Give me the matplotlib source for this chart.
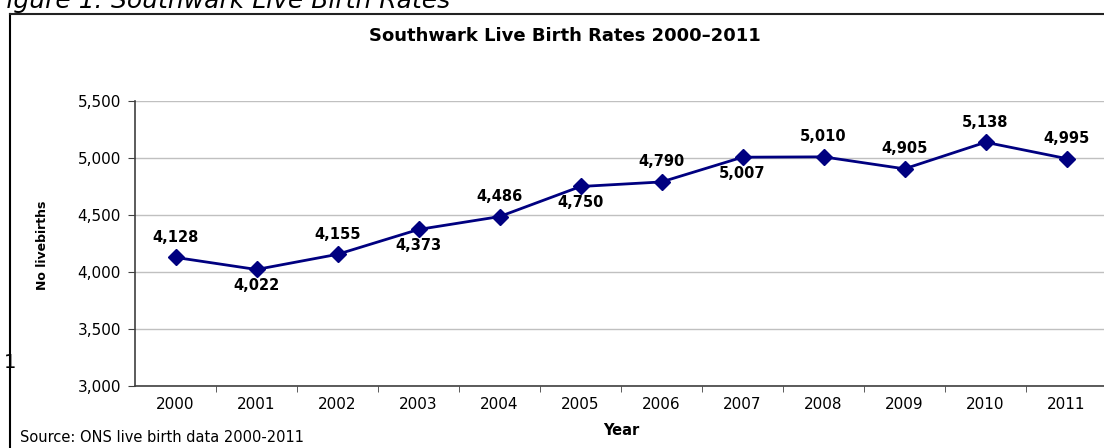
import matplotlib.pyplot as plt
from matplotlib.lines import Line2D

plt.rcParams['font.family'] = ['DejaVu Sans']

# --- Data ---
years = ['2000', '2001', '2002', '2003', '2004', '2005',
         '2006', '2007', '2008', '2009', '2010', '2011']
births = [4128, 4022, 4155, 4373, 4486, 4750, 4790, 5007, 5010, 4905, 5138, 4995]
label_above = [True, False, True, False, True, False,
               True, False, True, True, True, True]

fig = plt.figure(figsize=(11.04, 4.48), dpi=100)
ax = fig.add_axes([135 / 1104, 62 / 448, 972 / 1104, 285 / 448])

x = list(range(len(years)))
ax.plot(x, births, color='#000080', linewidth=2, marker='D', markersize=8,
        markerfacecolor='#000080', markeredgecolor='#000080', zorder=3)

# --- Data labels ---
for xi, v, up in zip(x, births, label_above):
    ax.annotate(f'{v:,}', (xi, v), xytext=(0, 9 if up else -6),
                textcoords='offset points', ha='center',
                va='bottom' if up else 'top', fontsize=10.5, fontweight='bold')

# --- Axes ---
ax.set_xlim(-0.5, len(years) - 0.5)
ax.set_ylim(3000, 5500)
ax.set_yticks(range(3000, 5501, 500))
ax.set_yticklabels([f'{t:,}' for t in range(3000, 5501, 500)], fontsize=11)
ax.set_xticks(x)
ax.set_xticklabels(years, fontsize=11)
ax.set_xticks([i - 0.5 for i in range(1, len(years) + 1)], minor=True)
ax.tick_params(axis='x', which='major', length=0, pad=8)
ax.tick_params(axis='x', which='minor', length=4, color='#404040')
ax.tick_params(axis='y', length=5, color='#404040', pad=5)
ax.grid(axis='y', color='#c0c0c0', linewidth=1)
ax.set_axisbelow(True)
for s in ['right', 'top']:
    ax.spines[s].set_visible(False)
for s in ['left', 'bottom']:
    ax.spines[s].set_color('#404040')
    ax.spines[s].set_linewidth(1.2)

ax.set_xlabel('Year', fontsize=10.5, fontweight='bold', labelpad=8)
fig.text(42 / 1104, 1 - 245 / 448, 'No livebirths', rotation=90, fontsize=9,
         fontweight='bold', ha='center', va='center',
         family=['Liberation Sans Narrow', 'DejaVu Sans'])

fig.text(565 / 1104, 1 - 36 / 448, 'Southwark Live Birth Rates 2000\u20132011',
         ha='center', va='center', fontsize=13, fontweight='bold')

# --- Page elements around the chart ---
fig.text(-8 / 1104, 1 - 8 / 448, 'Figure 1: Southwark Live Birth Rates',
         fontsize=18, style='italic', ha='left', va='baseline')
fig.text(20 / 1104, 1 - 437 / 448, 'Source: ONS live birth data 2000-2011',
         fontsize=10.5, ha='left', va='center')
fig.text(4 / 1104, 1 - 362 / 448, '1', fontsize=14, ha='left', va='center')
fig.add_artist(Line2D([10 / 1104, 10 / 1104], [0, 1 - 14 / 448],
                      color='black', linewidth=1.5, transform=fig.transFigure))
fig.add_artist(Line2D([10 / 1104, 1], [1 - 14 / 448, 1 - 14 / 448],
                      color='#222222', linewidth=1.5, transform=fig.transFigure))

fig.savefig('out.png', dpi=100)
